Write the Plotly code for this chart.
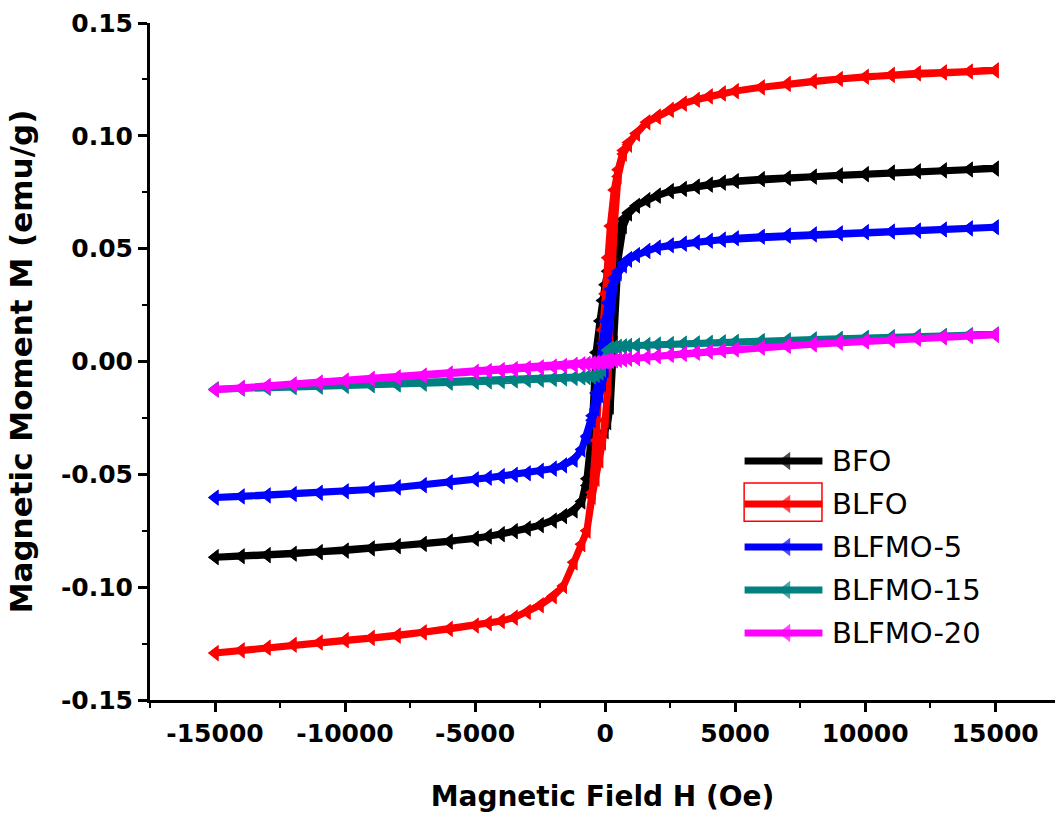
import plotly.graph_objects as go

# Applied field for one sweep branch (Oe), from +15 kOe down to -15 kOe
field_oe = [15000, 14000, 13000, 12000, 11000, 10000, 9000, 8000, 7000, 6000,
            5000, 4500, 4000, 3500, 3000, 2500, 2000, 1600, 1200, 900, 700,
            500, 350, 200, 100, 0, -100, -200, -350, -500, -700, -900,
            -1200, -1600, -2000, -2500, -3000, -3500, -4000, -4500, -5000,
            -6000, -7000, -8000, -9000, -10000, -11000, -12000, -13000,
            -14000, -15000]

# Magnetisation (emu/g): "down" = decreasing-field branch, "up" = increasing-field branch,
# both listed against field_oe
bfo_down = [0.0855, 0.0851, 0.0847, 0.0843, 0.0837, 0.0830, 0.0825, 0.0819, 0.0813, 0.0808,
            0.0800, 0.0793, 0.0784, 0.0775, 0.0765, 0.0755, 0.0735, 0.0715, 0.0690, 0.0660, 0.0630,
            0.0580, 0.0520, 0.0450, 0.0400, 0.0340, 0.0270, 0.0180, 0.0040, -0.0300, -0.0520, -0.0620,
            -0.0660, -0.0685, -0.0705, -0.0725, -0.0740, -0.0752, -0.0765, -0.0775, -0.0785,
            -0.0798, -0.0808, -0.0818, -0.0828, -0.0838, -0.0845, -0.0852, -0.0858, -0.0863, -0.0867]
bfo_up = [0.0855, 0.0851, 0.0847, 0.0843, 0.0837, 0.0830, 0.0825, 0.0819, 0.0813, 0.0808,
          0.0800, 0.0793, 0.0784, 0.0775, 0.0765, 0.0755, 0.0735, 0.0715, 0.0690, 0.0655, 0.0600,
          0.0450, 0.0080, -0.0200, -0.0270, -0.0310, -0.0340, -0.0370, -0.0420, -0.0470, -0.0550, -0.0620,
          -0.0660, -0.0685, -0.0705, -0.0725, -0.0740, -0.0752, -0.0765, -0.0775, -0.0785,
          -0.0798, -0.0808, -0.0818, -0.0828, -0.0838, -0.0845, -0.0852, -0.0858, -0.0863, -0.0867]

blfo_down = [0.1290, 0.1285, 0.1281, 0.1277, 0.1270, 0.1262, 0.1252, 0.1242, 0.1230, 0.1215,
             0.1198, 0.1188, 0.1175, 0.1160, 0.1143, 0.1115, 0.1085, 0.1060, 0.1010, 0.0970, 0.0935,
             0.0850, 0.0760, 0.0600, 0.0460, 0.0300, 0.0140, -0.0040, -0.0350, -0.0580, -0.0750, -0.0810,
             -0.0890, -0.0995, -0.1040, -0.1080, -0.1110, -0.1135, -0.1150, -0.1160, -0.1170,
             -0.1185, -0.1200, -0.1215, -0.1225, -0.1235, -0.1245, -0.1255, -0.1268, -0.1280, -0.1292]
blfo_up = [0.1290, 0.1285, 0.1281, 0.1277, 0.1270, 0.1262, 0.1252, 0.1242, 0.1230, 0.1215,
           0.1198, 0.1188, 0.1175, 0.1160, 0.1143, 0.1115, 0.1085, 0.1060, 0.1010, 0.0960, 0.0920,
           0.0820, 0.0600, 0.0200, -0.0120, -0.0260, -0.0360, -0.0440, -0.0520, -0.0600, -0.0750, -0.0810,
           -0.0890, -0.0995, -0.1040, -0.1080, -0.1110, -0.1135, -0.1150, -0.1160, -0.1170,
           -0.1185, -0.1200, -0.1215, -0.1225, -0.1235, -0.1245, -0.1255, -0.1268, -0.1280, -0.1292]

blfmo5_down = [0.0595, 0.0590, 0.0585, 0.0580, 0.0576, 0.0573, 0.0568, 0.0563, 0.0558, 0.0553,
               0.0546, 0.0540, 0.0535, 0.0528, 0.0522, 0.0515, 0.0505, 0.0490, 0.0472, 0.0455, 0.0435,
               0.0400, 0.0370, 0.0320, 0.0260, 0.0180, 0.0080, -0.0030, -0.0140, -0.0240, -0.0330, -0.0390,
               -0.0435, -0.0460, -0.0475, -0.0485, -0.0495, -0.0502, -0.0508, -0.0515, -0.0522,
               -0.0535, -0.0548, -0.0558, -0.0567, -0.0575, -0.0582, -0.0587, -0.0593, -0.0598, -0.0603]
blfmo5_up = [0.0595, 0.0590, 0.0585, 0.0580, 0.0576, 0.0573, 0.0568, 0.0563, 0.0558, 0.0553,
             0.0546, 0.0540, 0.0535, 0.0528, 0.0522, 0.0515, 0.0505, 0.0490, 0.0472, 0.0450, 0.0425,
             0.0390, 0.0340, 0.0220, 0.0080, -0.0040, -0.0100, -0.0150, -0.0210, -0.0260, -0.0335, -0.0390,
             -0.0435, -0.0460, -0.0475, -0.0485, -0.0495, -0.0502, -0.0508, -0.0515, -0.0522,
             -0.0535, -0.0548, -0.0558, -0.0567, -0.0575, -0.0582, -0.0587, -0.0593, -0.0598, -0.0603]

blfmo15 = [0.0120, 0.0117, 0.0114, 0.0111, 0.0108, 0.0105, 0.0101, 0.0098, 0.0094, 0.0091,
           0.0087, 0.0085, 0.0083, 0.0081, 0.0079, 0.0077, 0.0075, 0.0073, 0.0071, 0.0069, 0.0067,
           0.0065, 0.0062, 0.0058, 0.0050, 0.0010, -0.0035, -0.0050, -0.0060, -0.0066, -0.0069, -0.0071,
           -0.0073, -0.0075, -0.0077, -0.0080, -0.0082, -0.0084, -0.0086, -0.0088, -0.0090,
           -0.0094, -0.0098, -0.0102, -0.0105, -0.0108, -0.0111, -0.0114, -0.0117, -0.0120, -0.0123]

blfmo20 = [0.0118, 0.0113, 0.0107, 0.0101, 0.0095, 0.0089, 0.0083, 0.0076, 0.0069, 0.0061,
           0.0053, 0.0049, 0.0044, 0.0039, 0.0034, 0.0029, 0.0024, 0.0019, 0.0015, 0.0012, 0.0009,
           0.0007, 0.0005, 0.0003, 0.0001, 0.0000, -0.0002, -0.0004, -0.0006, -0.0008, -0.0010, -0.0012,
           -0.0015, -0.0019, -0.0022, -0.0026, -0.0030, -0.0034, -0.0038, -0.0042, -0.0046,
           -0.0054, -0.0062, -0.0070, -0.0077, -0.0085, -0.0093, -0.0101, -0.0109, -0.0117, -0.0125]

sample_names = ["BFO", "BLFO", "BLFMO-5", "BLFMO-15", "BLFMO-20"]
sample_colors = ["#000000", "#ff0000", "#0000ff", "#008080", "#ff00ff"]
branches_down = [bfo_down, blfo_down, blfmo5_down, blfmo15, blfmo20]
branches_up = [bfo_up, blfo_up, blfmo5_up, blfmo15, blfmo20]

x_tick_vals = [-15000, -10000, -5000, 0, 5000, 10000, 15000]
x_tick_text = ["-15000", "-10000", "-5000", "0", "5000", "10000", "15000"]
y_tick_vals = [-0.15, -0.10, -0.05, 0.00, 0.05, 0.10, 0.15]
y_tick_text = ["-0.15", "-0.10", "-0.05", "0.00", "0.05", "0.10", "0.15"]

FONT = "DejaVu Sans"
LINE_W = 7
MARK = 14

fig = go.Figure()

# Full hysteresis loop: decreasing branch followed by the increasing branch
for name, color, m_down, m_up in zip(sample_names, sample_colors, branches_down, branches_up):
    fig.add_trace(go.Scatter(
        x=field_oe + field_oe[::-1],
        y=m_down + m_up[::-1],
        mode="lines+markers",
        name=name,
        line=dict(color=color, width=LINE_W),
        marker=dict(symbol="triangle-left", size=MARK, color=color, line=dict(width=0)),
        showlegend=False,
    ))

# Legend drawn on an overlay axis in plot-fraction units
leg_x0, leg_xm, leg_x1 = 0.657, 0.703, 0.743
leg_text_x = 0.751
leg_top, leg_step = 0.353, 0.0635
annotations = []
for i, (name, color) in enumerate(zip(sample_names, sample_colors)):
    yy = leg_top - i * leg_step
    fig.add_trace(go.Scatter(
        x=[leg_x0, leg_xm, leg_x1], y=[yy, yy, yy],
        xaxis="x2", yaxis="y2",
        mode="lines+markers",
        line=dict(color=color, width=LINE_W),
        marker=dict(symbol="triangle-left", size=[0, MARK + 2, 0], color=color, line=dict(width=0)),
        showlegend=False, hoverinfo="skip",
    ))
    annotations.append(dict(
        x=leg_text_x, y=yy, xref="paper", yref="paper",
        text=name, showarrow=False, xanchor="left", yanchor="middle",
        font=dict(family=FONT, size=29, color="#000000"),
    ))

axis_common = dict(
    showline=True, linecolor="#000000", linewidth=3,
    ticks="outside", ticklen=9, tickwidth=3, tickcolor="#000000",
    showgrid=False, zeroline=False, mirror=False,
    tickfont=dict(family=FONT, size=25, color="#000000", weight="bold"),
)

fig.update_layout(
    width=1055, height=817,
    margin=dict(l=150, r=0, t=23, b=117),
    paper_bgcolor="#ffffff", plot_bgcolor="#ffffff",
    xaxis=dict(
        range=[-17500, 17300],
        tickmode="array", tickvals=x_tick_vals, ticktext=x_tick_text,
        minor=dict(ticks="outside", ticklen=5, tickwidth=2, tickcolor="#000000",
                   tickmode="linear", tick0=-17500, dtick=2500),
        title=dict(text="Magnetic Field H (Oe)", standoff=40,
                   font=dict(family=FONT, size=28, color="#000000", weight="bold")),
        **axis_common,
    ),
    yaxis=dict(
        range=[-0.15, 0.15],
        tickmode="array", tickvals=y_tick_vals, ticktext=y_tick_text,
        minor=dict(ticks="outside", ticklen=5, tickwidth=2, tickcolor="#000000",
                   tickmode="linear", tick0=-0.15, dtick=0.025),
        title=dict(text="Magnetic Moment M (emu/g)", standoff=20,
                   font=dict(family=FONT, size=31, color="#000000", weight="bold")),
        **axis_common,
    ),
    xaxis2=dict(overlaying="x", anchor="y2", range=[0, 1], visible=False, fixedrange=True),
    yaxis2=dict(overlaying="y", anchor="x2", range=[0, 1], visible=False, fixedrange=True),
    annotations=annotations,
    shapes=[dict(type="rect", xref="paper", yref="paper",
                 x0=0.6565, x1=0.7425, y0=0.264, y1=0.3205,
                 line=dict(color="#ff0000", width=1.5), fillcolor="rgba(0,0,0,0)")],
    showlegend=False,
)

fig.write_html("out.html")
